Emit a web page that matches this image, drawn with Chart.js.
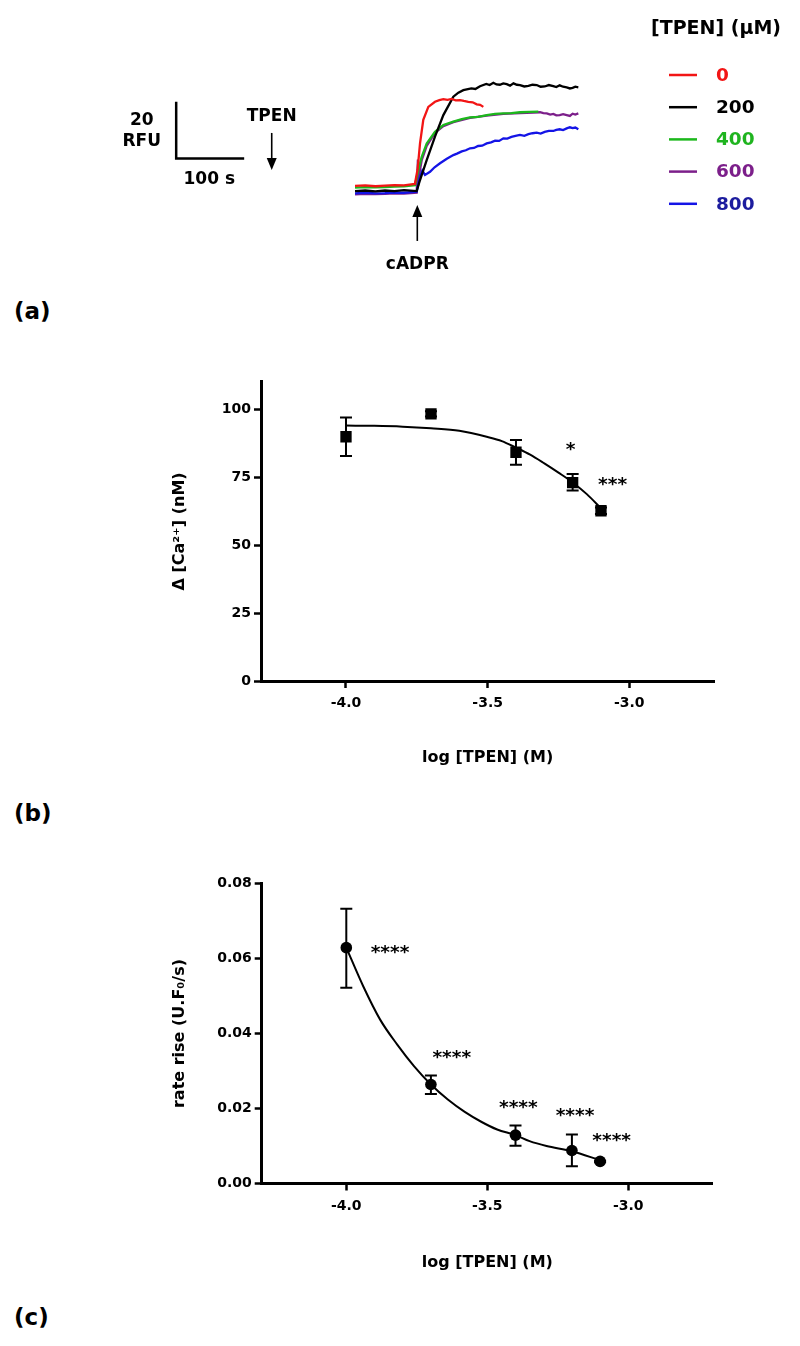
<!DOCTYPE html>
<html><head><meta charset="utf-8">
<script src="https://cdn.jsdelivr.net/npm/chart.js@4.4.1/dist/chart.umd.min.js"></script>
<style>
html,body{margin:0;padding:0;background:#fff;}
body{width:800px;height:1346px;position:relative;overflow:hidden;}
canvas{position:absolute;left:0;}
.plabel{position:absolute;left:14px;font:bold 23px 'DejaVu Sans',sans-serif;color:#000;line-height:1;}
</style></head><body>
<canvas id="ca" width="800" height="290" style="top:0"></canvas>
<canvas id="cb" width="800" height="460" style="top:340px"></canvas>
<canvas id="cc" width="800" height="450" style="top:850px"></canvas>
<div class="plabel" style="top:300px">(a)</div>
<div class="plabel" style="top:802px">(b)</div>
<div class="plabel" style="top:1306px">(c)</div>
<script>
// ---------------- Panel (a): fluorescence traces (time in s, RFU) ----------------
const traceLabels = ['0', '200', '400', '600', '800'];
const time0   = [0, 15, 30, 44, 58, 72, 88, 92, 95.6, 100.4, 107.8, 117.6, 124, 129.9, 136, 142.2, 148, 154.4, 160, 166.6, 173, 179.0, 184, 188.7];
const rfu0    = [3.2, 3.4, 3.1, 3.3, 3.5, 3.4, 3.9, 9.0, 18.2, 26.5, 31.1, 32.9, 33.5, 33.8, 33.6, 33.9, 33.4, 33.5, 33.2, 32.9, 32.7, 32.0, 31.8, 31.1];
const time200 = [0, 15, 30, 44, 58, 72, 90.7, 95.6, 105.4, 117.6, 129.9, 144.6, 152, 159.3, 171, 177, 183.8, 193, 198, 203.4, 208, 213, 218, 223.1, 228, 233, 238, 242.6, 249, 255, 261, 267.2, 273, 279, 285, 291.6, 296, 301, 306, 311.3, 316, 320, 324, 328.4];
const rfu200  = [1.4, 1.6, 1.3, 1.6, 1.4, 1.7, 1.4, 5.3, 12.3, 20.6, 28.2, 34.7, 36.1, 37.0, 37.6, 37.4, 38.4, 39.2, 38.8, 39.6, 39.0, 38.9, 39.4, 39.1, 38.6, 39.4, 38.9, 38.8, 38.3, 38.5, 38.9, 38.8, 38.2, 38.3, 38.8, 38.4, 38.1, 38.7, 38.2, 38.0, 37.6, 37.8, 38.2, 38.0];
const time400 = [0, 15, 30, 44, 58, 72, 88.2, 93.1, 98.1, 105.4, 117.6, 129.9, 144.6, 157, 169.1, 181, 193.7, 206, 218.1, 230, 242.6, 256, 269.6];
const rfu400  = [2.6, 2.8, 2.7, 2.8, 3.0, 3.1, 3.5, 8.8, 13.5, 18.2, 22.3, 24.7, 25.9, 26.8, 27.4, 27.6, 28.2, 28.6, 28.8, 28.9, 29.2, 29.3, 29.4];
const time600 = [0, 15, 30, 44, 58, 72, 90.7, 92.5, 93.5, 98.1, 105.4, 117.6, 129.9, 144.6, 169.1, 193.7, 218.1, 242.6, 272.1, 277, 282, 287, 291.6, 296, 301, 306, 311.3, 316, 320, 324, 328.4];
const rfu600  = [0.2, 0.4, 0.3, 0.4, 0.6, 0.5, 0.8, 12.5, 6.0, 12.3, 17.3, 21.9, 24.3, 25.7, 27.2, 28.0, 28.6, 28.9, 29.2, 28.9, 28.8, 28.4, 28.6, 28.1, 28.2, 28.5, 28.2, 27.9, 28.7, 28.4, 28.8];
const time800 = [0, 15, 30, 44, 58, 72, 90.7, 95.6, 99, 102.9, 110.3, 117, 125.0, 135, 144.6, 150, 157, 163, 169.1, 175, 181, 187, 193.7, 200, 206, 212, 218.1, 224, 230, 236, 242.6, 249, 255, 261, 267.2, 273, 279, 285, 291.6, 296, 301, 306, 311.3, 316, 320, 324, 328.4];
const rfu800  = [0.6, 0.8, 0.6, 0.7, 0.9, 0.8, 1.2, 6.5, 8.6, 7.1, 8.2, 9.8, 11.2, 12.8, 14.1, 14.6, 15.4, 15.8, 16.5, 16.6, 17.3, 17.4, 18.2, 18.6, 19.2, 19.1, 20.0, 19.9, 20.5, 20.9, 21.2, 20.9, 21.5, 21.8, 22.0, 21.7, 22.3, 22.6, 22.6, 23.0, 23.2, 22.9, 23.5, 23.9, 23.6, 23.8, 23.2];

// scale bar (100 s x 20 RFU) and event arrows, in data units
const scaleBarTime = [-263, -263, -163];
const scaleBarRFU  = [32.9, 12.9, 12.9];
const scaleBarText = ['20', 'RFU', '100 s'];
const scaleTextTime = [-313.7, -313.7, -214.3];
const scaleTextRFU  = [26.2, 18.8, 5.3];
const arrowText = ['TPEN', 'cADPR'];
const arrowTime = [-122.5, 91.6];
const arrowTailRFU = [21.9, -16.2];
const arrowTipRFU  = [8.8, -3.5];
const arrowTextRFU = [27.5, -24.7];

// ---------------- Panel (b): delta [Ca2+] ----------------
const logTPEN = [-4.0, -3.7, -3.4, -3.2, -3.1];
const caMean  = [89.8, 98.2, 84.1, 72.9, 62.6];
const caLow   = [82.7, 97.2, 79.5, 70.0, 61.4];
const caHigh  = [96.9, 99.2, 88.6, 76.1, 63.8];
const caFitX  = [-4.0, -3.9, -3.8, -3.7, -3.6, -3.5, -3.45, -3.4, -3.35, -3.3, -3.25, -3.2, -3.15, -3.1];
const caFitY  = [93.9, 93.8, 93.5, 92.9, 92.0, 89.7, 88.2, 85.8, 83.2, 80.0, 76.6, 73.0, 68.7, 63.5];
const caStars = ['*', '***'];
const caStarX = [-3.207, -3.059];
const caStarY = [86.8, 73.9];
const caYTicks = [0, 25, 50, 75, 100];
const logXTicks = [-4.0, -3.5, -3.0];

// ---------------- Panel (c): rate of rise ----------------
const rateMean = [0.0629, 0.0264, 0.0129, 0.0088, 0.0059];
const rateLow  = [0.0522, 0.0239, 0.0101, 0.0046, 0.0057];
const rateHigh = [0.0733, 0.0288, 0.0155, 0.0131, 0.0061];
const rateFitX = [-4.0, -3.94, -3.88, -3.82, -3.76, -3.70, -3.64, -3.58, -3.52, -3.465, -3.40, -3.35, -3.29, -3.20, -3.10];
const rateFitY = [0.0629, 0.0526, 0.0437, 0.0371, 0.0313, 0.0264, 0.0224, 0.0191, 0.0164, 0.0144, 0.0129, 0.0113, 0.0100, 0.0086, 0.0062];
const rateStars = ['****', '****', '****', '****', '****'];
const rateStarX = [-3.845, -3.626, -3.390, -3.189, -3.059];
const rateStarY = [0.0627, 0.0349, 0.0215, 0.0194, 0.0127];
const rateYTicks = [0, 0.02, 0.04, 0.06, 0.08];

const FAM = "'DejaVu Sans', 'Liberation Sans', Arial, sans-serif";
const zip = (xs, ys) => xs.map((x, i) => ({x: x, y: ys[i]}));

// ---------- plugins ----------
const traceDecor = {
  id: 'traceDecor',
  afterDatasetsDraw(chart) {
    const ctx = chart.ctx, xs = chart.scales.x, ys = chart.scales.y;
    ctx.save();
    ctx.fillStyle = '#000'; ctx.strokeStyle = '#000';
    ctx.textAlign = 'center'; ctx.textBaseline = 'middle';
    ctx.font = 'bold 17px ' + FAM;
    scaleBarText.forEach((t, i) => ctx.fillText(t, xs.getPixelForValue(scaleTextTime[i]), ys.getPixelForValue(scaleTextRFU[i])));
    arrowText.forEach((t, i) => {
      const x = xs.getPixelForValue(arrowTime[i]);
      ctx.fillText(t, x, ys.getPixelForValue(arrowTextRFU[i]));
      const y0 = ys.getPixelForValue(arrowTailRFU[i]), y1 = ys.getPixelForValue(arrowTipRFU[i]);
      const dir = Math.sign(y1 - y0), head = 12;
      ctx.lineWidth = 1.6;
      ctx.beginPath(); ctx.moveTo(x, y0); ctx.lineTo(x, y1 - dir * head); ctx.stroke();
      ctx.beginPath(); ctx.moveTo(x, y1); ctx.lineTo(x - 5, y1 - dir * head); ctx.lineTo(x + 5, y1 - dir * head); ctx.closePath(); ctx.fill();
    });
    // legend
    ctx.textAlign = 'left';
    ctx.font = 'bold 19px ' + FAM;
    ctx.fillText('[TPEN] (\u00b5M)', 651, 29);
    ctx.font = 'bold 18.5px ' + FAM;
    chart.data.datasets.filter(d => d.legendIndex !== undefined).sort((a, b) => a.legendIndex - b.legendIndex).forEach((d, i) => {
      const y = 75 + i * 32.2;
      ctx.strokeStyle = d.borderColor; ctx.lineWidth = 2.5;
      ctx.beginPath(); ctx.moveTo(669, y); ctx.lineTo(697, y); ctx.stroke();
      ctx.fillStyle = d.legendTextColor;
      ctx.fillText(d.label, 716, y + 1);
    });
    ctx.restore();
  }
};
const errBars = {
  id: 'errBars',
  beforeDatasetsDraw(chart, args, o) {
    const ctx = chart.ctx, xs = chart.scales.x, ys = chart.scales.y;
    ctx.save(); ctx.strokeStyle = '#000'; ctx.lineWidth = 2;
    o.x.forEach((xv, i) => {
      const x = xs.getPixelForValue(xv), a = ys.getPixelForValue(o.lo[i]), b = ys.getPixelForValue(o.hi[i]);
      ctx.beginPath();
      ctx.moveTo(x, a); ctx.lineTo(x, b);
      ctx.moveTo(x - 6, a); ctx.lineTo(x + 6, a);
      ctx.moveTo(x - 6, b); ctx.lineTo(x + 6, b);
      ctx.stroke();
    });
    ctx.restore();
  }
};
const stars = {
  id: 'stars',
  afterDatasetsDraw(chart, args, o) {
    const ctx = chart.ctx, xs = chart.scales.x, ys = chart.scales.y;
    ctx.save(); ctx.fillStyle = '#000'; ctx.font = 'bold 18.5px ' + FAM;
    ctx.textAlign = 'center'; ctx.textBaseline = 'alphabetic';
    o.text.forEach((t, i) => ctx.fillText(t, xs.getPixelForValue(o.x[i]), ys.getPixelForValue(o.y[i]) + 10));
    ctx.restore();
  }
};

// ---------- panel (a) chart ----------
const line = (label, xs, ys, color, textColor, idx, order) => ({
  type: 'line', label: label, data: zip(xs, ys), borderColor: color, borderWidth: 2.3,
  pointRadius: 0, fill: false, tension: 0, legendIndex: idx, legendTextColor: textColor, order: order
});
new Chart(document.getElementById('ca'), {
  type: 'scatter',
  data: { datasets: [
    line(traceLabels[0], time0, rfu0, '#f21515', '#f21515', 0, 0),
    line(traceLabels[1], time200, rfu200, '#000000', '#000000', 1, 1),
    line(traceLabels[2], time400, rfu400, '#1cb81c', '#1fb41f', 2, 2),
    line(traceLabels[3], time600, rfu600, '#7c1f8a', '#7c1f8a', 3, 4),
    line(traceLabels[4], time800, rfu800, '#1414e6', '#1c1c9e', 4, 3),
    { type: 'line', data: zip(scaleBarTime, scaleBarRFU), borderColor: '#000', borderWidth: 2.5, pointRadius: 0, fill: false, tension: 0, order: 5, borderJoinStyle: 'miter' }
  ]},
  options: {
    responsive: false, animation: false, layout: { padding: 0 },
    plugins: { legend: { display: false }, tooltip: { enabled: false } },
    scales: {
      x: { type: 'linear', display: false, min: -522.1, max: 654.4 },
      y: { type: 'linear', display: false, min: -33.5, max: 68.8 }
    }
  },
  plugins: [traceDecor]
});

// ---------- shared axis builder ----------
function axes(cfg) {
  const tickFont = { family: FAM, size: 14, weight: 'bold' };
  const titleFont = { family: FAM, size: 16, weight: 'bold' };
  return {
    x: {
      type: 'linear', min: -4.3, max: -2.7,
      afterBuildTicks: s => { s.ticks = logXTicks.map(v => ({ value: v })); },
      afterFit: s => { s.height = cfg.xH; },
      ticks: { callback: v => v.toFixed(1), font: tickFont, color: '#000', padding: 7, maxRotation: 0, autoSkip: false },
      grid: { drawOnChartArea: false, tickLength: 7, tickWidth: 2.5, tickColor: '#000' },
      border: { width: 3, color: '#000' },
      title: { display: true, text: 'log [TPEN] (M)', font: titleFont, color: '#000', padding: { top: 0, bottom: cfg.xTitlePad } }
    },
    y: {
      type: 'linear', min: 0, max: cfg.yMax,
      afterBuildTicks: s => { s.ticks = cfg.yTicks.map(v => ({ value: v })); },
      afterFit: s => { s.width = cfg.yW; },
      ticks: { callback: cfg.fmt, font: tickFont, color: '#000', padding: 3, autoSkip: false },
      grid: { drawOnChartArea: false, tickLength: 7, tickWidth: 2.5, tickColor: '#000' },
      border: { width: 3, color: '#000' },
      title: { display: true, text: cfg.yTitle, font: titleFont, color: '#000', padding: { top: 170.4, bottom: 0 } }
    }
  };
}

// ---------- panel (b) ----------
new Chart(document.getElementById('cb'), {
  type: 'scatter',
  data: { datasets: [
    { type: 'line', data: zip(caFitX, caFitY), borderColor: '#000', borderWidth: 2, pointRadius: 0, fill: false, cubicInterpolationMode: 'monotone', order: 1 },
    { type: 'scatter', data: zip(logTPEN, caMean), pointStyle: 'rect', pointRadius: 8, backgroundColor: '#000', borderColor: '#000', borderWidth: 0, order: 0 }
  ]},
  options: {
    responsive: false, animation: false,
    layout: { padding: { top: 41.8, right: 85.7, left: 0, bottom: 0 } },
    plugins: { legend: { display: false }, tooltip: { enabled: false },
      errBars: { x: logTPEN, lo: caLow, hi: caHigh },
      stars: { x: caStarX, y: caStarY, text: caStars } },
    scales: axes({ xH: 119, xTitlePad: 32.4, yW: 261, yMax: 110, yTicks: caYTicks, fmt: v => String(v), yTitle: '\u0394 [Ca\u00b2\u207a] (nM)' })
  },
  plugins: [errBars, stars]
});

// ---------- panel (c) ----------
new Chart(document.getElementById('cc'), {
  type: 'scatter',
  data: { datasets: [
    { type: 'line', data: zip(rateFitX, rateFitY), borderColor: '#000', borderWidth: 2, pointRadius: 0, fill: false, cubicInterpolationMode: 'monotone', order: 1 },
    { type: 'scatter', data: zip(logTPEN, rateMean), pointStyle: 'circle', pointRadius: 5.8, backgroundColor: '#000', borderColor: '#000', borderWidth: 0, order: 0 }
  ]},
  options: {
    responsive: false, animation: false,
    layout: { padding: { top: 33.5, right: 87.1, left: 0, bottom: 0 } },
    plugins: { legend: { display: false }, tooltip: { enabled: false },
      errBars: { x: logTPEN, lo: rateLow, hi: rateHigh },
      stars: { x: rateStarX, y: rateStarY, text: rateStars } },
    scales: axes({ xH: 116.5, xTitlePad: 27.4, yW: 261.7, yMax: 0.08, yTicks: rateYTicks, fmt: v => v.toFixed(2), yTitle: 'rate rise (U.F\u2080/s)' })
  },
  plugins: [errBars, stars]
});
</script>
</body></html>
